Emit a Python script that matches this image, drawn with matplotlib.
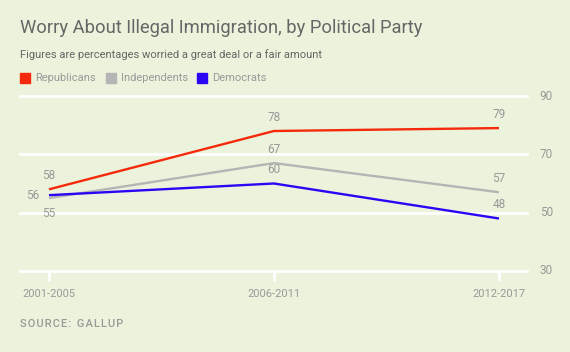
import matplotlib
matplotlib.use("Agg")
import matplotlib.pyplot as plt
from matplotlib.patches import Rectangle

periods = ["2001-2005", "2006-2011", "2012-2017"]
republicans = [58, 78, 79]
independents = [55, 67, 57]
democrats = [56, 60, 48]
yticks = [30, 50, 70, 90]

BG = "#ecf3dc"
RED = "#f52a0c"
GRAY = "#b5b5b5"
BLUE = "#2b06f5"
TXT = "#999999"

plt.rcParams['font.family'] = ['Roboto', 'DejaVu Sans']

fig = plt.figure(figsize=(5.70, 3.52), dpi=100, facecolor=BG)
W, H = 570, 352
ax = fig.add_axes([20 / W, (H - 271) / H, 507 / W, 175 / H])
ax.set_facecolor(BG)
ax.patch.set_alpha(0)
for s in ax.spines.values():
    s.set_visible(False)

x = list(range(len(periods)))
ax.set_xlim(-29 / 225, 478 / 225)
ax.set_ylim(30, 90)
for yv in yticks:
    ax.axhline(yv, color="white", lw=2, zorder=1, clip_on=False)

ax.plot(x, independents, color=GRAY, lw=1.7, zorder=3, solid_capstyle='butt')
ax.plot(x, democrats, color=BLUE, lw=1.7, zorder=4, solid_capstyle='butt')
ax.plot(x, republicans, color=RED, lw=1.7, zorder=5, solid_capstyle='butt')

ax.set_xticks(x)
ax.set_xticklabels(periods)
ax.tick_params(axis='x', colors="white", length=7, width=2, labelcolor=TXT,
               labelsize=8, pad=6)
ax.set_yticks([])
for yv in yticks:
    ax.text(1.025, yv, str(yv), transform=ax.get_yaxis_transform(),
            ha='left', va='center', fontsize=8.5, color=TXT)

def lab(xi, yi, txt, dx, dy):
    ax.annotate(txt, (xi, yi), xytext=(dx, dy), textcoords='offset points',
                ha='center', va='center', fontsize=8.5, color=TXT, zorder=6)

lab(0, republicans[0], str(republicans[0]), 0, 10)
lab(1, republicans[1], str(republicans[1]), 0, 10)
lab(2, republicans[2], str(republicans[2]), 0, 10)
lab(0, independents[0], str(independents[0]), 0, -11)
lab(1, independents[1], str(independents[1]), 0, 10)
lab(2, independents[2], str(independents[2]), 0, 10)
lab(0, democrats[0], str(democrats[0]), -12, 0)
lab(1, democrats[1], str(democrats[1]), 0, 10)
lab(2, democrats[2], str(democrats[2]), 0, 10)

fig.text(20 / W, 1 - 28 / H, "Worry About Illegal Immigration, by Political Party",
         fontsize=13.2, color="#666666", ha='left', va='center')
fig.text(20 / W, 1 - 55 / H, "Figures are percentages worried a great deal or a fair amount",
         fontsize=8, color="#666666", ha='left', va='center')

legend_items = [("Republicans", RED, 20), ("Independents", GRAY, 106), ("Democrats", BLUE, 197)]
for name, col, px in legend_items:
    fig.patches.append(Rectangle((px / W, 1 - 83 / H), 10 / W, 10 / H,
                                 transform=fig.transFigure, color=col, figure=fig))
    fig.text((px + 15) / W, 1 - 78 / H, name, fontsize=8, color=TXT,
             ha='left', va='center')

source = "\u200a".join("SOURCE:") + "  " + "\u200a".join("GALLUP")
fig.text(20 / W, 1 - 324 / H, source,
         fontsize=8, color=TXT, ha='left', va='center', fontweight='medium')

fig.savefig("out.png", dpi=100, facecolor=BG)
